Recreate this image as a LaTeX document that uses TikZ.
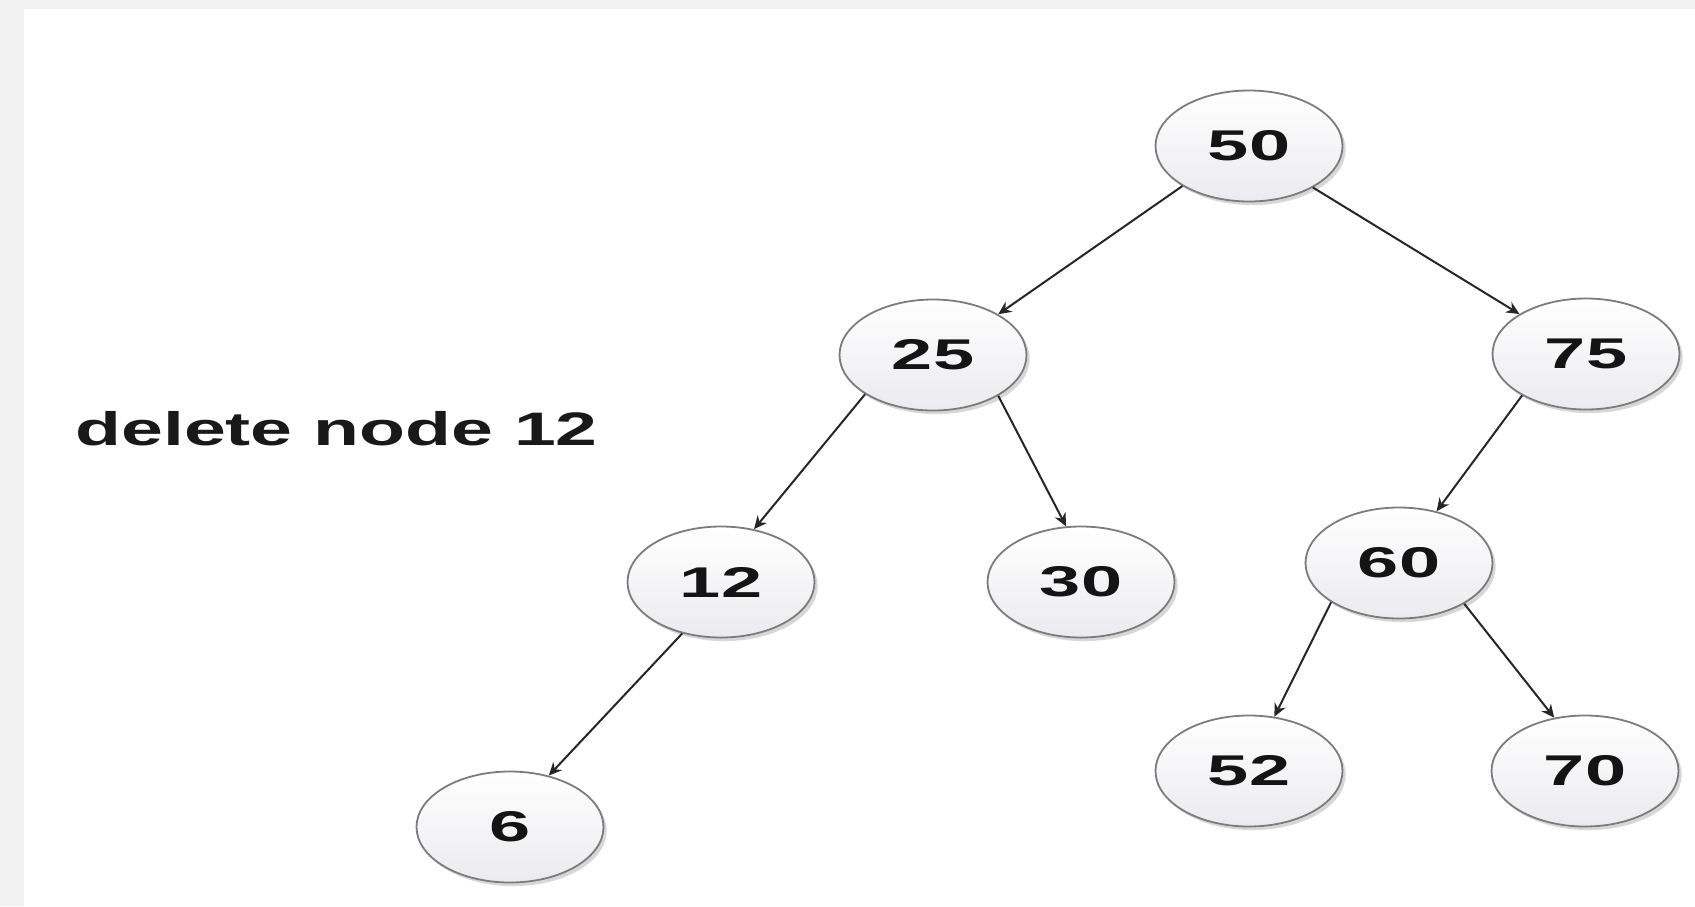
\documentclass[tikz,border=0pt]{standalone}
\usepackage{fontspec}
\setmainfont{Liberation Sans}
\usetikzlibrary{shapes.geometric,arrows.meta,shadows}
\definecolor{pagegray}{HTML}{F2F2F2}
\definecolor{rimgray}{HTML}{7C7C7C}
\definecolor{linkgray}{HTML}{262626}
\definecolor{fillbottom}{HTML}{EBEBEF}
\tikzset{
  bstnode/.style={ellipse, draw=rimgray, line width=0.9pt,
    minimum width=93.5pt, minimum height=55.5pt, inner sep=0pt,
    top color=white, bottom color=fillbottom,
    drop shadow={shadow xshift=1.6pt, shadow yshift=-1.8pt, opacity=0.22, fill=black!70},
    font=\fontsize{21.5}{25}\selectfont\bfseries, text=black!92},
  link/.style={draw=linkgray, line width=1pt,
    -{Stealth[length=6.5pt, width=6pt]}}
}
\newcommand{\wide}[1]{\scalebox{1.72}[1]{#1}}
\begin{document}
\begin{tikzpicture}[x=0.5pt, y=-0.5pt]
  % page background and white canvas
  \fill[pagegray] (0,0) rectangle (1695,906);
  \fill[white] (24,9) rectangle (1695,906);
  \useasboundingbox (0,0) rectangle (1695,906);

  % caption
  \node[anchor=base west, inner sep=0pt, font=\fontsize{23.5}{27}\selectfont\bfseries, text=black!90]
    (caption) at (75,445) {\scalebox{1.6}[1]{delete node 12}};

  % tree nodes
  \node[bstnode] (n50) at (1249,146) {\wide{50}};
  \node[bstnode] (n25) at (933,355) {\wide{25}};
  \node[bstnode] (n75) at (1586,354) {\wide{75}};
  \node[bstnode] (n12) at (721,582) {\wide{12}};
  \node[bstnode] (n30) at (1081,582) {\wide{30}};
  \node[bstnode] (n60) at (1399,563) {\wide{60}};
  \node[bstnode] (n6)  at (510,827) {\wide{6}};
  \node[bstnode] (n52) at (1249,771) {\wide{52}};
  \node[bstnode] (n70) at (1585,771) {\wide{70}};

  % parent -> child links
  \draw[link] (n50.211) -- (n25.32);
  \draw[link] (n50.-33) -- (n75.149);
  \draw[link] (n25.210) -- (n12.58);
  \draw[link] (n25.-32) -- (n30.105);
  \draw[link] (n75.213) -- (n60.54);
  \draw[link] (n12.233) -- (n6.53);
  \draw[link] (n60.210) -- (n52.65);
  \draw[link] (n60.-32) -- (n70.120);
\end{tikzpicture}
\end{document}
